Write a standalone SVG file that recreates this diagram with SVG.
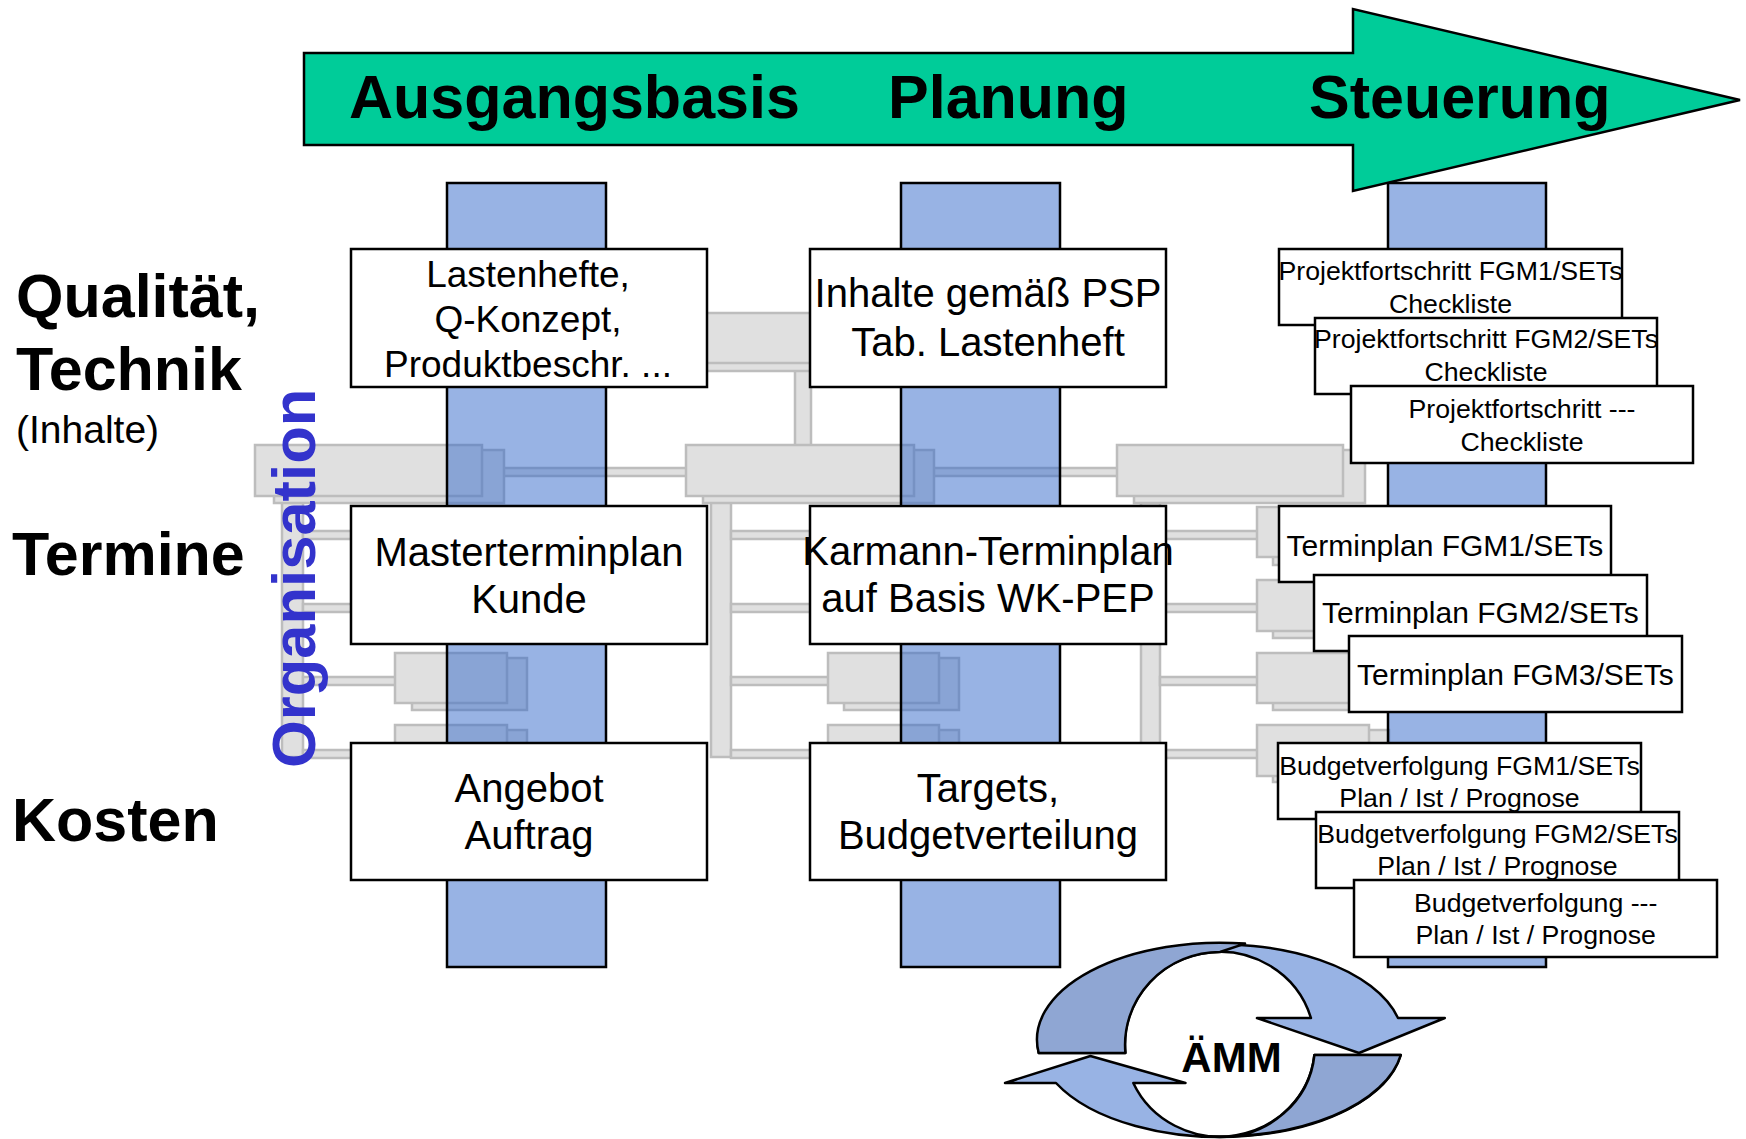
<svg xmlns="http://www.w3.org/2000/svg" width="1746" height="1139" viewBox="0 0 1746 1139">
  <style>
    .g { fill:#E0E0E0; stroke:#BDBDBD; stroke-width:2.5; }
    .col { fill:#3167C9; fill-opacity:0.5; stroke:#000; stroke-width:2.5; }
    .box { fill:#FFFFFF; stroke:#000; stroke-width:2.5; }
    .txt { font-family:"Liberation Sans", Arial, sans-serif; fill:#000; }
    .c40 { font-size:40px; text-anchor:middle; }
    .c37 { font-size:37px; text-anchor:middle; }
    .c30 { font-size:30px; text-anchor:middle; }
    .c27 { font-size:26.7px; text-anchor:middle; }
    .hdr { font-size:61px; font-weight:bold; }
    .lbl { font-size:61px; font-weight:bold; }
    .sub { font-size:39px; }
    .org { font-family:"Liberation Sans", Arial, sans-serif; font-size:61.5px; font-weight:bold; fill:#3333CC; }
    .amm { font-size:42px; font-weight:bold; text-anchor:middle; }
    .ring-l { fill:#98B3E4; stroke:#000; stroke-width:2.5; stroke-linejoin:round; }
    .ring-d { fill:#8FA6D3; stroke:#000; stroke-width:2.5; stroke-linejoin:round; }
  </style>

  <rect x="0" y="0" width="1746" height="1139" fill="#FFFFFF"/>

  <!-- grey organisation chart in the background: links -->
  <g id="org-links">
    <rect class="g" x="795" y="363" width="16" height="84"/>
    <rect class="g" x="495" y="468" width="630" height="8"/>
    <rect class="g" x="282" y="496" width="21" height="261"/>
    <rect class="g" x="711" y="496" width="20" height="261"/>
    <rect class="g" x="1141" y="496" width="19" height="261"/>
    <rect class="g" x="303" y="531" width="97" height="8"/>
    <rect class="g" x="303" y="604" width="97" height="8"/>
    <rect class="g" x="303" y="677" width="97" height="8"/>
    <rect class="g" x="303" y="750" width="97" height="8"/>
    <rect class="g" x="731" y="531" width="101" height="8"/>
    <rect class="g" x="731" y="604" width="101" height="8"/>
    <rect class="g" x="731" y="677" width="101" height="8"/>
    <rect class="g" x="731" y="750" width="101" height="8"/>
    <rect class="g" x="1160" y="531" width="101" height="8"/>
    <rect class="g" x="1160" y="604" width="101" height="8"/>
    <rect class="g" x="1160" y="677" width="101" height="8"/>
    <rect class="g" x="1160" y="750" width="101" height="8"/>
  </g>

  <!-- grey organisation chart: boxes (shadow + face) -->
  <g id="org-top">
    <rect class="g" x="705" y="317" width="229" height="54"/>
    <rect class="g" x="686" y="313" width="228" height="50"/>
  </g>
  <g id="org-left">
    <rect class="g" x="274" y="450" width="230" height="53"/>
    <rect class="g" x="255" y="445" width="227" height="51"/>
  </g>
  <g id="org-mid">
    <rect class="g" x="703" y="450" width="231" height="53"/>
    <rect class="g" x="686" y="445" width="228" height="51"/>
  </g>
  <g id="org-right">
    <rect class="g" x="1134" y="450" width="231" height="53"/>
    <rect class="g" x="1117" y="445" width="226" height="51"/>
  </g>
  <g id="org-left-children">
    <rect class="g" x="412" y="512" width="115" height="52"/>
    <rect class="g" x="395" y="507" width="112" height="50"/>
    <rect class="g" x="412" y="585" width="115" height="52"/>
    <rect class="g" x="395" y="580" width="112" height="50"/>
    <rect class="g" x="412" y="658" width="115" height="52"/>
    <rect class="g" x="395" y="653" width="112" height="50"/>
    <rect class="g" x="412" y="730" width="115" height="52"/>
    <rect class="g" x="395" y="725" width="112" height="50"/>
  </g>
  <g id="org-mid-children">
    <rect class="g" x="844" y="512" width="115" height="52"/>
    <rect class="g" x="828" y="507" width="111" height="50"/>
    <rect class="g" x="844" y="585" width="115" height="52"/>
    <rect class="g" x="828" y="580" width="111" height="50"/>
    <rect class="g" x="844" y="658" width="115" height="52"/>
    <rect class="g" x="828" y="653" width="111" height="50"/>
    <rect class="g" x="844" y="730" width="115" height="52"/>
    <rect class="g" x="828" y="725" width="111" height="50"/>
  </g>
  <g id="org-right-children">
    <rect class="g" x="1273" y="512" width="116" height="53"/>
    <rect class="g" x="1257" y="507" width="112" height="50"/>
    <rect class="g" x="1273" y="585" width="116" height="53"/>
    <rect class="g" x="1257" y="580" width="112" height="51"/>
    <rect class="g" x="1273" y="658" width="116" height="52"/>
    <rect class="g" x="1257" y="653" width="112" height="50"/>
    <rect class="g" x="1273" y="730" width="116" height="52"/>
    <rect class="g" x="1257" y="725" width="112" height="51"/>
  </g>

  <!-- phase columns -->
  <g id="columns">
    <rect class="col" x="447" y="183" width="159" height="784"/>
    <rect class="col" x="901" y="183" width="159" height="784"/>
    <rect class="col" x="1388" y="183" width="158" height="784"/>
  </g>

  <!-- phase arrow -->
  <g id="phase-arrow">
    <polygon points="304,53 1353,53 1353,9 1740,100 1353,191 1353,145 304,145" fill="#00CC99" stroke="#000" stroke-width="2.5" stroke-linejoin="miter"/>
    <text class="txt hdr" x="349" y="118">Ausgangsbasis</text>
    <text class="txt hdr" x="888" y="118">Planung</text>
    <text class="txt hdr" x="1309" y="118">Steuerung</text>
  </g>

  <!-- row labels -->
  <g id="row-labels">
    <text class="txt lbl" x="16" y="317">Qualität,</text>
    <text class="txt lbl" x="16" y="390">Technik</text>
    <text class="txt sub" x="16" y="443">(Inhalte)</text>
    <text class="txt lbl" x="12" y="575">Termine</text>
    <text class="txt lbl" x="12" y="841">Kosten</text>
  </g>
  <text class="org" transform="translate(315,768) rotate(-90)">Organisation</text>

  <!-- Ausgangsbasis column -->
  <g id="n-lastenhefte">
    <rect class="box" x="351" y="249" width="356" height="138"/>
    <text class="txt c37" x="528" y="287">Lastenhefte,</text>
    <text class="txt c37" x="528" y="332">Q-Konzept,</text>
    <text class="txt c37" x="528" y="377">Produktbeschr. ...</text>
  </g>
  <g id="n-masterterminplan">
    <rect class="box" x="351" y="506" width="356" height="138"/>
    <text class="txt c40" x="529" y="566">Masterterminplan</text>
    <text class="txt c40" x="529" y="613">Kunde</text>
  </g>
  <g id="n-angebot">
    <rect class="box" x="351" y="743" width="356" height="137"/>
    <text class="txt c40" x="529" y="802">Angebot</text>
    <text class="txt c40" x="529" y="849">Auftrag</text>
  </g>

  <!-- Planung column -->
  <g id="n-psp">
    <rect class="box" x="810" y="249" width="356" height="138"/>
    <text class="txt c40" x="988" y="307">Inhalte gemäß PSP</text>
    <text class="txt c40" x="988" y="356">Tab. Lastenheft</text>
  </g>
  <g id="n-karmann">
    <rect class="box" x="810" y="506" width="356" height="138"/>
    <text class="txt c40" x="988" y="565">Karmann-Terminplan</text>
    <text class="txt c40" x="988" y="612">auf Basis WK-PEP</text>
  </g>
  <g id="n-targets">
    <rect class="box" x="810" y="743" width="356" height="137"/>
    <text class="txt c40" x="988" y="802">Targets,</text>
    <text class="txt c40" x="988" y="849">Budgetverteilung</text>
  </g>

  <!-- Steuerung column -->
  <g id="n-pf1">
    <rect class="box" x="1279" y="249" width="343" height="76"/>
    <text class="txt c27" x="1450.5" y="280">Projektfortschritt FGM1/SETs</text>
    <text class="txt c27" x="1450.5" y="312.7">Checkliste</text>
  </g>
  <g id="n-pf2">
    <rect class="box" x="1315" y="318" width="342" height="76"/>
    <text class="txt c27" x="1486" y="348.3">Projektfortschritt FGM2/SETs</text>
    <text class="txt c27" x="1486" y="380.7">Checkliste</text>
  </g>
  <g id="n-pf3">
    <rect class="box" x="1351" y="386" width="342" height="77"/>
    <text class="txt c27" x="1522" y="418.3">Projektfortschritt ---</text>
    <text class="txt c27" x="1522" y="450.7">Checkliste</text>
  </g>
  <g id="n-t1">
    <rect class="box" x="1279" y="506" width="332" height="76"/>
    <text class="txt c30" x="1445" y="556">Terminplan FGM1/SETs</text>
  </g>
  <g id="n-t2">
    <rect class="box" x="1314" y="575" width="333" height="76"/>
    <text class="txt c30" x="1480.5" y="623.3">Terminplan FGM2/SETs</text>
  </g>
  <g id="n-t3">
    <rect class="box" x="1349" y="636" width="333" height="76"/>
    <text class="txt c30" x="1515.5" y="685">Terminplan FGM3/SETs</text>
  </g>
  <g id="n-b1">
    <rect class="box" x="1278" y="743" width="363" height="76"/>
    <text class="txt c27" x="1459.5" y="775">Budgetverfolgung FGM1/SETs</text>
    <text class="txt c27" x="1459.5" y="807.3">Plan / Ist / Prognose</text>
  </g>
  <g id="n-b2">
    <rect class="box" x="1316" y="812" width="363" height="76"/>
    <text class="txt c27" x="1497.5" y="843.3">Budgetverfolgung FGM2/SETs</text>
    <text class="txt c27" x="1497.5" y="875">Plan / Ist / Prognose</text>
  </g>
  <g id="n-b3">
    <rect class="box" x="1354" y="880" width="363" height="77"/>
    <text class="txt c27" x="1535.7" y="912.3">Budgetverfolgung ---</text>
    <text class="txt c27" x="1535.7" y="944">Plan / Ist / Prognose</text>
  </g>

  <!-- change management cycle -->
  <g id="n-amm">
    <path class="ring-l" d="M1038.7,1053 A183,97 0 0 1 1398,1018 L1444.8,1018 L1359,1053 L1257,1018 L1311,1018 A95,93 0 0 0 1125.4,1053 Z"/>
    <path class="ring-d" d="M1038.7,1053 A183,97 0 0 1 1245,943.6 L1220,952 A95,93 0 0 0 1125.4,1053 Z"/>
    <path class="ring-l" d="M1400.8,1055 A183,97 0 0 1 1056,1083 L1005,1083 L1090.4,1056 L1185.5,1083 L1133.3,1083 A95,91 0 0 0 1314.4,1055 Z"/>
    <path class="ring-d" d="M1400.8,1055 A183,97 0 0 1 1205,1136.2 L1220,1137 A95,91 0 0 0 1314.4,1055 Z"/>
    <text class="txt amm" x="1231.5" y="1072">ÄMM</text>
  </g>
</svg>
